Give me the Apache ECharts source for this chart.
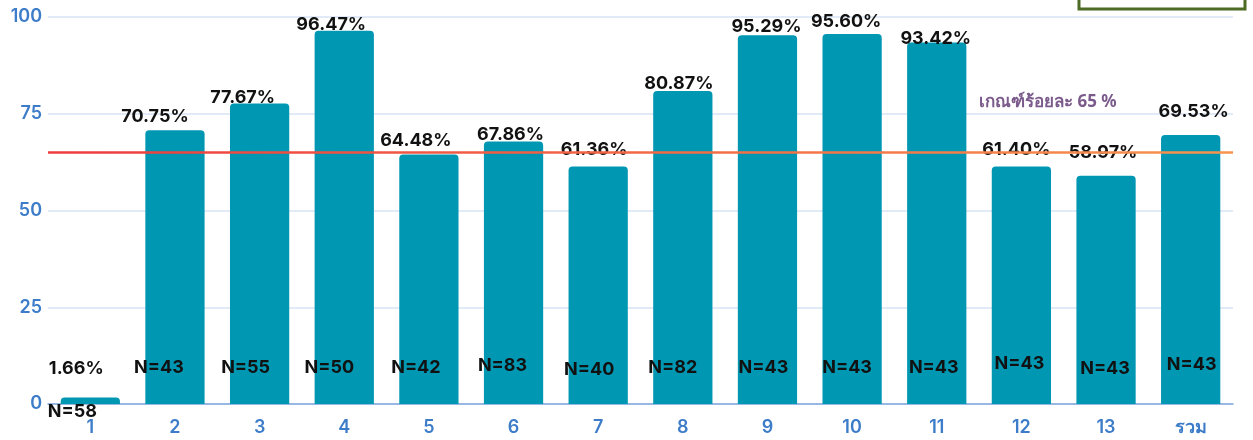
<!DOCTYPE html>
<html>
<head>
<meta charset="utf-8">
<script src="https://cdn.jsdelivr.net/npm/echarts@6/dist/echarts.min.js"></script>
<style>
  html, body { margin: 0; padding: 0; background: #fff; }
  #chart { width: 1253px; height: 440px; }
</style>
</head>
<body>
<div id="chart"></div>
<script>
// ข้อมูล
var categories = ['1', '2', '3', '4', '5', '6', '7', '8', '9', '10', '11', '12', '13', 'รวม'];
var percents = [1.66, 70.75, 77.67, 96.47, 64.48, 67.86, 61.36, 80.87, 95.29, 95.60, 93.42, 61.40, 58.97, 69.53];
var nCounts = [58, 43, 55, 50, 42, 83, 40, 82, 43, 43, 43, 43, 43, 43];
var threshold = 65;
var thresholdText = 'เกณฑ์ร้อยละ 65 %';
var yTicks = [0, 25, 50, 75, 100];

// label nudges (px), only styling
var pctOffsets = [[-14, -15], [-20, 0], [-17, 8], [-13, 8], [-13, 0], [-3, 7], [-4, -3], [-4, 7], [-1, 5], [-6, 2], [-1, 10], [-5, -3], [-3, -9], [3, -9]];
var nOffsets = [[-18, 45], [-16, 1], [-14, 1], [-15, 1], [-13, 1], [-11, -1], [-9, 3], [-10, 1], [-4, 1], [-5, 1], [-3, 1], [-2, -3], [-1, 2], [1, -2]];

var myChart = echarts.init(document.getElementById('chart'));

var pctData = percents.map(function (v, i) {
  return { value: v, label: { offset: pctOffsets[i] } };
});
var nData = percents.map(function (v, i) {
  return { value: v, label: { offset: nOffsets[i] } };
});

var option = {
  animation: false,
  grid: { left: 48, right: 20, top: 17, bottom: 36 },
  xAxis: {
    type: 'category',
    data: categories,
    axisTick: { show: false },
    axisLine: { lineStyle: { color: '#7fa8dc', width: 1.5 } },
    axisLabel: {
      color: '#3d7cc9',
      fontSize: 18,
      fontFamily: 'Inter, "Noto Sans", sans-serif',
      fontWeight: 600,
      margin: 15
    }
  },
  yAxis: {
    type: 'value',
    min: yTicks[0],
    max: yTicks[yTicks.length - 1],
    interval: 25,
    axisLine: { show: false },
    axisTick: { show: false },
    axisLabel: {
      color: '#3d7cc9',
      fontSize: 18,
      fontFamily: 'Inter',
      fontWeight: 600,
      margin: 6
    },
    splitLine: { lineStyle: { color: '#d7e4f5', width: 1.5 } }
  },
  series: [
    {
      name: 'ร้อยละ',
      type: 'bar',
      data: pctData,
      barCategoryGap: '30%',
      itemStyle: { color: '#0097b2', borderRadius: [4, 4, 0, 0] },
      label: {
        show: true,
        position: 'top',
        color: '#111',
        fontSize: 18,
        fontFamily: 'Inter',
        fontWeight: 'bold',
        formatter: function (p) { return p.value.toFixed(2) + '%'; }
      },
      markLine: {
        silent: true,
        symbol: 'none',
        label: { show: false },
        lineStyle: {
          type: 'solid',
          width: 2.5,
          color: new echarts.graphic.LinearGradient(0, 0, 1, 0, [
            { offset: 0, color: '#ee3b3f' },
            { offset: 1, color: '#f7944d' }
          ])
        },
        data: [{ yAxis: threshold }]
      },
      z: 2
    },
    {
      name: 'N',
      type: 'bar',
      data: nData,
      barGap: '-100%',
      barCategoryGap: '30%',
      itemStyle: { color: 'transparent' },
      label: {
        show: true,
        position: 'insideBottom',
        distance: 28,
        color: '#111',
        fontSize: 18,
        fontFamily: 'Inter',
        fontWeight: 'bold',
        formatter: function (p) { return 'N=' + nCounts[p.dataIndex]; }
      },
      z: 3
    }
  ],
  graphic: [
    {
      type: 'text',
      left: 979,
      top: 94,
      style: {
        text: thresholdText,
        fill: '#7b5a8c',
        font: 'bold 17px "Noto Sans", sans-serif'
      }
    },
    {
      type: 'rect',
      shape: { x: 1079, y: -10, width: 166, height: 19 },
      style: { fill: 'none', stroke: '#4d6b22', lineWidth: 3 }
    }
  ]
};

myChart.setOption(option);
window.addEventListener('resize', function () {
  myChart.resize();
});
</script>
</body>
</html>
